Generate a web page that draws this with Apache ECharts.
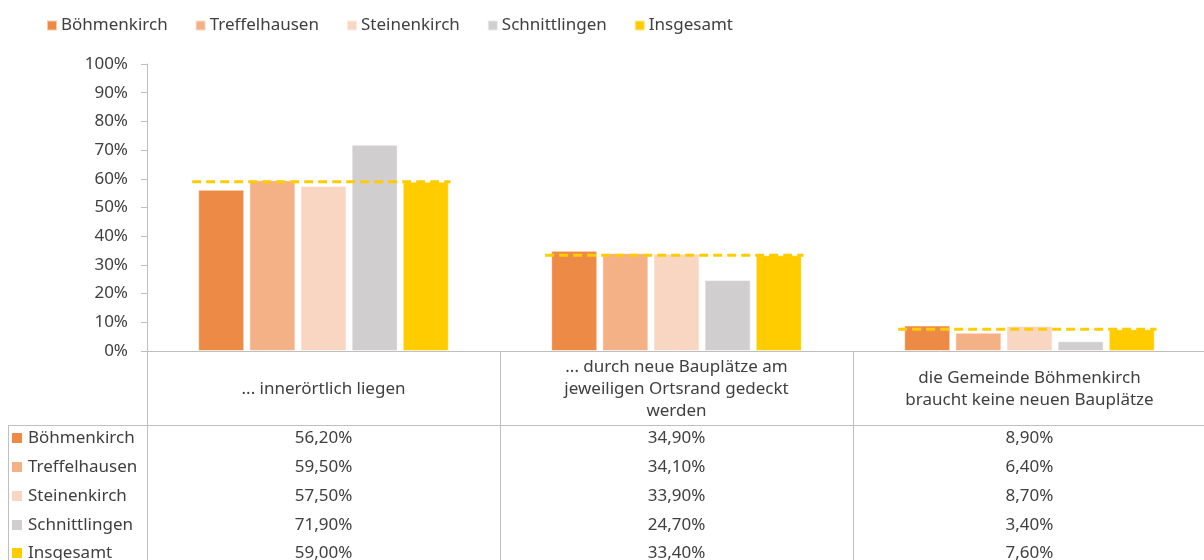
<!DOCTYPE html>
<html>
<head>
<meta charset="utf-8">
<script src="https://cdn.jsdelivr.net/npm/echarts@6/dist/echarts.min.js"></script>
<style>
    html, body { margin: 0; padding: 0; background: #fff; }
    #bauplaetze_chart { width: 1204px; height: 560px; }
</style>
</head>
<body>
<div id="bauplaetze_chart"></div>
<script>

// Data
// ------------------------------

var categories = [
    '... innerörtlich liegen',
    '... durch neue Bauplätze am\njeweiligen Ortsrand gedeckt\nwerden',
    'die Gemeinde Böhmenkirch\nbraucht keine neuen Bauplätze'
];
var seriesNames = ['Böhmenkirch', 'Treffelhausen', 'Steinenkirch', 'Schnittlingen', 'Insgesamt'];
var boehmenkirch = [56.2, 34.9, 8.9];
var treffelhausen = [59.5, 34.1, 6.4];
var steinenkirch = [57.5, 33.9, 8.7];
var schnittlingen = [71.9, 24.7, 3.4];
var insgesamt = [59.0, 33.4, 7.6];
var yTicks = [0, 10, 20, 30, 40, 50, 60, 70, 80, 90, 100];


// Setup module
// ------------------------------

var EchartsBauplaetze = function() {

    var _bauplaetzeChart = function() {
        if (typeof echarts == 'undefined') {
            console.warn('Warning - echarts.min.js is not loaded.');
            return;
        }

        var chart_element = document.getElementById('bauplaetze_chart');
        if (!chart_element) return;

        var chart = echarts.init(chart_element);

        var colors = ['#ED8B46', '#F4B185', '#F9D6C2', '#D0CECE', '#FFCC00'];
        var values = [boehmenkirch, treffelhausen, steinenkirch, schnittlingen, insgesamt];
        var fontFamily = '"Noto Sans", sans-serif';
        var textColor = '#404040';
        var gridColor = '#BFBFBF';

        var gridTop = 64, gridBottom = 209;
        var rowCenters = [438, 467, 496, 525, 553];
        var axisY = 560 - gridBottom;

        var fmt = function(v) {
            return v.toFixed(2).replace('.', ',') + '%';
        };

        // Main category axis (header row of the table)
        var xAxes = [{
            type: 'category',
            data: categories,
            axisLine: { lineStyle: { color: gridColor, width: 1 } },
            axisTick: { show: true, length: 209, lineStyle: { color: gridColor } },
            axisLabel: {
                color: textColor,
                fontFamily: fontFamily,
                fontSize: 17,
                lineHeight: 22,
                margin: 38,
                verticalAlign: 'middle',
                interval: 0
            }
        }];

        // One extra axis per table row, labels taken from the series values
        values.forEach(function(arr, i) {
            xAxes.push({
                type: 'category',
                data: categories,
                position: 'bottom',
                offset: rowCenters[i] - axisY,
                axisLine: { show: false },
                axisTick: { show: false },
                axisLabel: {
                    color: textColor,
                    fontFamily: fontFamily,
                    fontSize: 17,
                    margin: 0,
                    verticalAlign: 'middle',
                    interval: 0,
                    formatter: function(v, idx) {
                        return fmt(arr[idx]);
                    }
                }
            });
        });

        // Bar series
        var series = seriesNames.map(function(name, i) {
            return {
                name: name,
                type: 'bar',
                data: values[i],
                barGap: '11%',
                barCategoryGap: '29%',
                itemStyle: {
                    color: colors[i],
                    borderColor: 'rgba(255,255,255,0.55)',
                    borderWidth: 1
                }
            };
        });

        // Dashed total line across each group
        series.push({
            name: 'Insgesamt Linie',
            type: 'custom',
            z: 5,
            encode: { x: 0, y: 1 },
            data: insgesamt.map(function(v, i) { return [i, v]; }),
            renderItem: function(params, api) {
                var c = api.coord([api.value(0), api.value(1)]);
                var w = api.size([1, 0])[0];
                return {
                    type: 'line',
                    shape: { x1: c[0] - w * 0.372, y1: c[1], x2: c[0] + w * 0.36, y2: c[1] },
                    style: { stroke: '#FFCC00', lineWidth: 3, lineDash: [9, 5] }
                };
            }
        });

        // Row labels and table borders
        var graphics = [
            { type: 'line', shape: { x1: 8, y1: 425.5, x2: 1204, y2: 425.5 }, style: { stroke: gridColor, lineWidth: 1 } },
            { type: 'line', shape: { x1: 8.5, y1: 425, x2: 8.5, y2: 560 }, style: { stroke: gridColor, lineWidth: 1 } }
        ];
        seriesNames.forEach(function(name, i) {
            graphics.push({
                type: 'rect',
                shape: { x: 12, y: rowCenters[i] - 5, width: 10, height: 10 },
                style: { fill: colors[i] }
            });
            graphics.push({
                type: 'text',
                x: 28,
                y: rowCenters[i],
                style: {
                    text: name,
                    fill: textColor,
                    font: '17px ' + fontFamily,
                    textVerticalAlign: 'middle',
                    verticalAlign: 'middle'
                }
            });
        });

        chart.setOption({
            animation: false,
            textStyle: { fontFamily: fontFamily, fontSize: 17, color: textColor },

            grid: {
                left: 147,
                right: -2,
                top: gridTop,
                bottom: gridBottom,
                containLabel: false,
                outerBoundsMode: 'none'
            },

            legend: {
                data: seriesNames,
                left: 41,
                top: 12,
                icon: 'rect',
                itemWidth: 10,
                itemHeight: 10,
                itemGap: 27,
                textStyle: { color: textColor, fontSize: 17, fontFamily: fontFamily, padding: [0, 0, 0, -1] }
            },

            xAxis: xAxes,

            yAxis: {
                type: 'value',
                min: yTicks[0],
                max: yTicks[yTicks.length - 1],
                interval: yTicks[1] - yTicks[0],
                axisLine: { show: true, lineStyle: { color: gridColor } },
                axisTick: { show: true, length: 6, lineStyle: { color: gridColor } },
                splitLine: { show: false },
                axisLabel: {
                    color: textColor,
                    fontFamily: fontFamily,
                    fontSize: 17,
                    margin: 19,
                    formatter: '{value}%'
                }
            },

            graphic: graphics,

            series: series
        });
    };

    return {
        init: function() {
            _bauplaetzeChart();
        }
    }
}();


// Initialize module
// ------------------------------

document.addEventListener('DOMContentLoaded', function() {
    EchartsBauplaetze.init();
});
</script>
</body>
</html>
